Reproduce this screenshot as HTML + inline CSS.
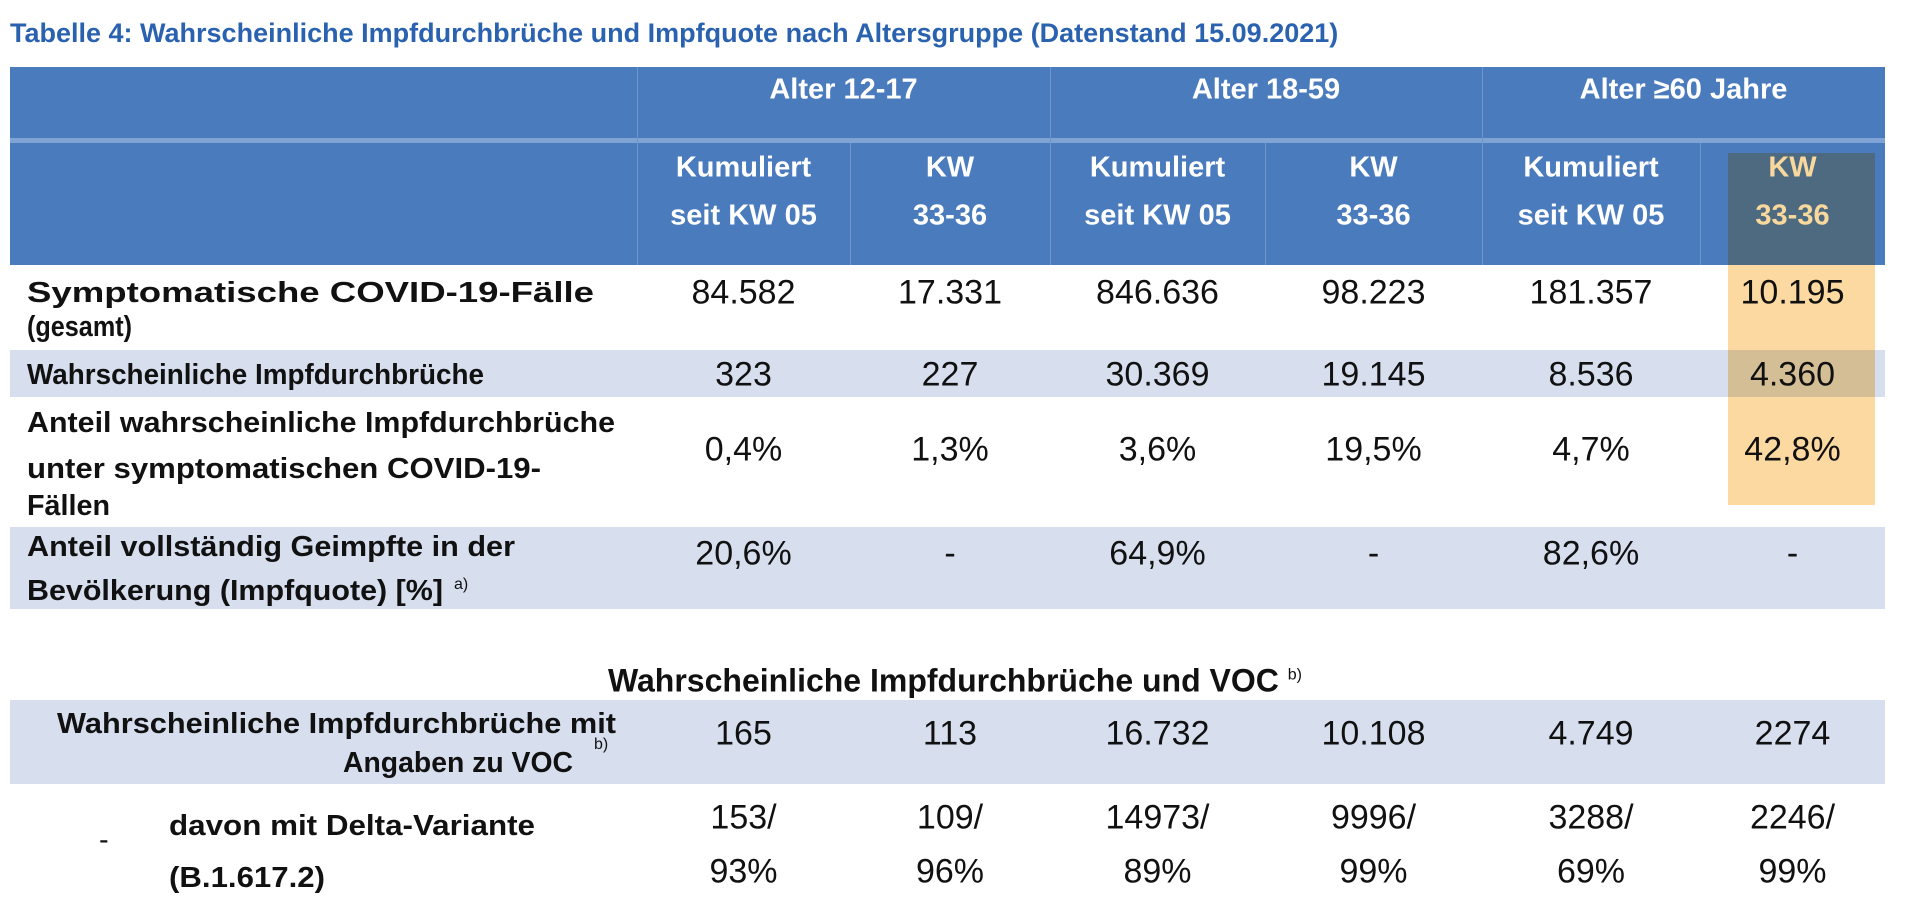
<!DOCTYPE html>
<html><head><meta charset="utf-8">
<style>
body{margin:0;width:1911px;height:912px;background:#fff;position:relative;overflow:hidden;font-family:"Liberation Sans",sans-serif;}
.a{position:absolute;}
.t{position:absolute;white-space:nowrap;transform:translate(-50%,-50%);}
.ln{position:absolute;font-weight:bold;font-size:29px;color:#111;white-space:nowrap;line-height:1;transform-origin:0 50%;}
.hd{font-weight:bold;font-size:29px;color:#fff;text-align:center;}
.num{font-size:34px;color:#111;}
sup{font-size:16px;font-weight:normal;vertical-align:12px;line-height:0;}
</style></head><body>
<div class="a" style="left:10px;top:18px;font-weight:bold;font-size:27px;color:#2a62b0;white-space:nowrap;">Tabelle 4: Wahrscheinliche Impfdurchbrüche und Impfquote nach Altersgruppe (Datenstand 15.09.2021)</div>
<div class="a" style="left:10px;top:67px;width:1875px;height:71px;background:#4a7bbd;"></div>
<div class="a" style="left:10px;top:138px;width:1875px;height:5px;background:#7fa3d4;"></div>
<div class="a" style="left:10px;top:143px;width:1875px;height:122px;background:#4a7bbd;"></div>
<div class="a" style="left:1728px;top:153px;width:147px;height:112px;background:#4d6a80;"></div>
<div class="a" style="left:10px;top:350px;width:1875px;height:47px;background:#d7dfef;"></div>
<div class="a" style="left:10px;top:527px;width:1875px;height:82px;background:#d7dfef;"></div>
<div class="a" style="left:10px;top:700px;width:1875px;height:84px;background:#d7dfef;"></div>
<div class="a" style="left:1728px;top:265px;width:147px;height:240px;background:#fcd596;opacity:.9;mix-blend-mode:multiply;"></div>
<div id="grid"></div>

<div class="ln" data-w="567" style="left:27px;top:279px;">Symptomatische COVID-19-Fälle</div>
<div class="ln" data-w="105" style="left:27px;top:313px;">(gesamt)</div>
<div class="ln" data-w="457" style="left:27px;top:361px;">Wahrscheinliche Impfdurchbrüche</div>
<div class="ln" data-w="588" style="left:27px;top:409px;">Anteil wahrscheinliche Impfdurchbrüche</div>
<div class="ln" data-w="514" style="left:27px;top:455px;">unter symptomatischen COVID-19-</div>
<div class="ln" data-w="83" style="left:27px;top:492px;">Fällen</div>
<div class="ln" data-w="488" style="left:27px;top:533px;">Anteil vollständig Geimpfte in der</div>
<div class="ln" data-w="416" style="left:27px;top:577px;">Bevölkerung (Impfquote) [%]</div>
<div class="a" style="left:454px;top:576px;font-size:16px;color:#111;">a)</div>
<div class="t" style="left:955px;top:681px;font-weight:bold;font-size:32px;color:#111;">Wahrscheinliche Impfdurchbrüche und VOC <sup>b)</sup></div>
<div class="ln" data-w="559" style="left:57px;top:710px;">Wahrscheinliche Impfdurchbrüche mit</div>
<div class="ln" data-w="230" style="left:343px;top:749px;">Angaben zu VOC</div>
<div class="a" style="left:594px;top:736px;font-size:16px;color:#111;">b)</div>
<div class="ln" style="left:99px;top:826px;font-weight:normal;">-</div>
<div class="ln" data-w="366" style="left:169px;top:812px;">davon mit Delta-Variante</div>
<div class="ln" data-w="156" style="left:169px;top:864px;">(B.1.617.2)</div>

<script>
const groups=["Alter 12-17","Alter 18-59","Alter ≥60 Jahre"];
const subHeads=["Kumuliert|seit KW 05","KW|33-36","Kumuliert|seit KW 05","KW|33-36","Kumuliert|seit KW 05","KW|33-36"];
const rowCases=["84.582","17.331","846.636","98.223","181.357","10.195"];
const rowBreak=["323","227","30.369","19.145","8.536","4.360"];
const rowShare=["0,4%","1,3%","3,6%","19,5%","4,7%","42,8%"];
const rowRate=["20,6%","-","64,9%","-","82,6%","-"];
const rowVoc=["165","113","16.732","10.108","4.749","2274"];
const rowDelta=["153/|93%","109/|96%","14973/|89%","9996/|99%","3288/|69%","2246/|99%"];
const colEdges=[637,850,1050,1265,1482,1700,1885];
document.querySelectorAll('.ln[data-w]').forEach(el=>{const w=el.getBoundingClientRect().width;el.style.transform='scaleX('+(el.dataset.w/w)+')';});
const g=document.getElementById('grid');
function txt(x,y,s,cls,name,col){const d=document.createElement('div');d.className='t '+cls;d.style.left=x+'px';d.style.top=y+'px';d.innerHTML=s;if(col)d.style.color=col;


g.appendChild(d);}
function line(x,y,h,name){const d=document.createElement('div');d.className='a';d.style.cssText='left:'+x+'px;top:'+y+'px;width:1px;height:'+h+'px;background:#6f95cb;';


g.appendChild(d);}
const cx=i=>(colEdges[i]+colEdges[i+1])/2;
line(colEdges[0],67,198,'header-divider');
groups.forEach((s,i)=>{txt((colEdges[2*i]+colEdges[2*i+2])/2,90,s,'hd','group-header');if(i>0)line(colEdges[2*i],67,198,'header-divider');line(colEdges[2*i+1],143,122,'header-divider');});
subHeads.forEach((s,i)=>{const p=s.split('|');const c=i==5?'#f8d89c':null;txt(cx(i),168,p[0],'hd','sub-header',c);txt(cx(i),216,p[1],'hd','sub-header',c);});
const rows=[[rowCases,293,'value-cases'],[rowBreak,375,'value-breakthroughs'],[rowShare,450,'value-share'],[rowRate,554,'value-rate'],[rowVoc,734,'value-voc']];
rows.forEach(r=>r[0].forEach((v,i)=>txt(cx(i),r[1],v,'num',r[2])));
rowDelta.forEach((v,i)=>{const p=v.split('|');txt(cx(i),818,p[0],'num','value-delta');txt(cx(i),872,p[1],'num','value-delta-pct');});
</script>
</body></html>
